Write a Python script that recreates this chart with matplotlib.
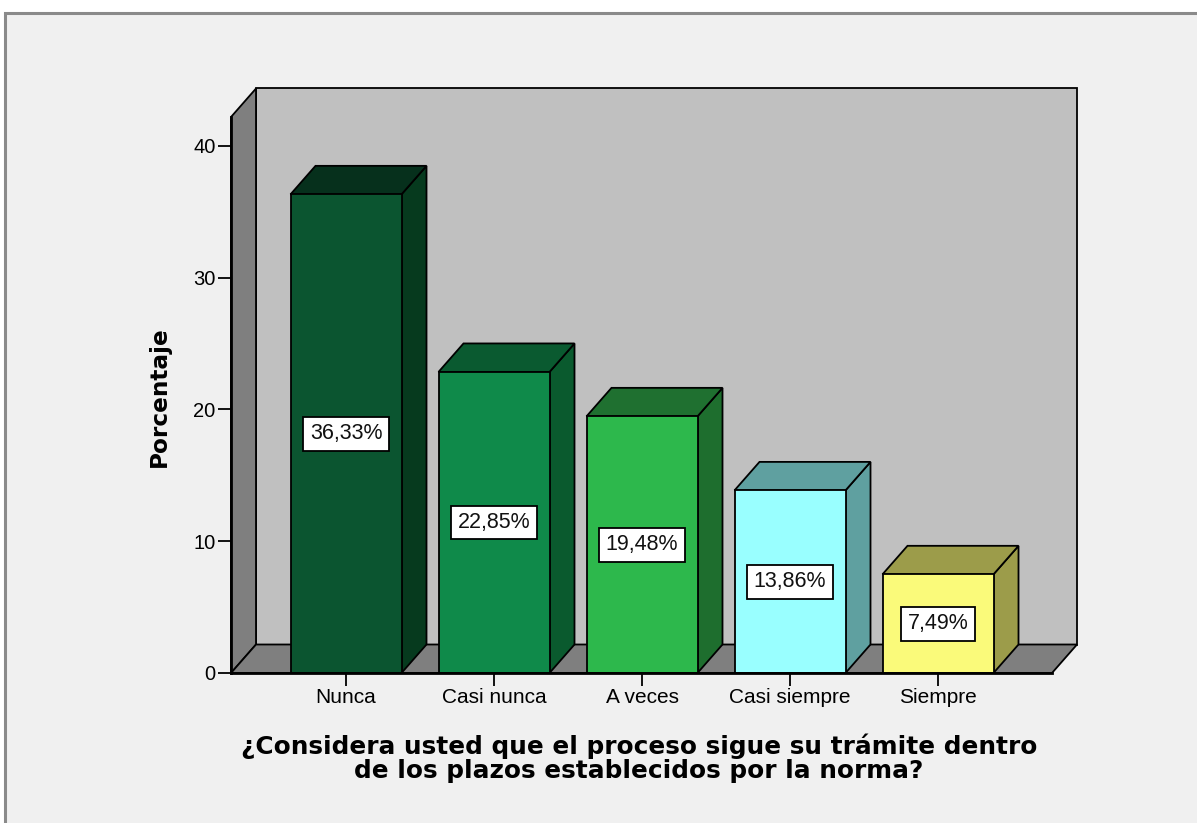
import matplotlib
matplotlib.use("Agg")
import matplotlib.pyplot as plt
from matplotlib.patches import Polygon, Rectangle

categories = ["Nunca", "Casi nunca", "A veces", "Casi siempre", "Siempre"]
values = [36.33, 22.85, 19.48, 13.86, 7.49]
yticks = [0, 10, 20, 30, 40]
ylabel = "Porcentaje"
xtitle = "¿Considera usted que el proceso sigue su trámite dentro\nde los plazos establecidos por la norma?"

front_colors = ["#0B5530", "#0F8A4A", "#2DB84C", "#99FFFF", "#FAFA7A"]
side_colors = ["#063A1E", "#0A5A2E", "#1E6E2E", "#5FA0A0", "#9C9C4A"]
top_colors = ["#06301C", "#0A5A30", "#1F7030", "#5FA0A0", "#9C9C4A"]

W, H = 1197, 823
fig = plt.figure(figsize=(W / 100, H / 100), dpi=100, facecolor="white")

# outer frame
fig.patches.append(Rectangle((5 / W, -0.1), 1.2, 1.1 - 13 / H, transform=fig.transFigure,
                             facecolor="#F0F0F0", edgecolor="#8A8A8A", lw=2.2, zorder=-5))

# axes: front plane
px_left, px_right, px_bottom, px_top = 231, 1052, 673, 117
ax = fig.add_axes([px_left / W, (H - px_bottom) / H, (px_right - px_left) / W, (px_bottom - px_top) / H])
ax.set_facecolor("none")
ax.set_zorder(1)

spacing = 148.0
cx0 = 346.0
xmin = (px_left - cx0) / spacing
xmax = (px_right - cx0) / spacing
ppu = 13.175
ymax = (px_bottom - px_top) / ppu
ax.set_xlim(xmin, xmax)
ax.set_ylim(0, ymax)

dx = 25 / spacing
dy = 28.5 / ppu
bw = 111 / spacing
ec = "black"
lw = 1.3

# back wall
ax.add_patch(Polygon([(xmin + dx, dy), (xmax + dx, dy), (xmax + dx, ymax + dy), (xmin + dx, ymax + dy)],
                     closed=True, facecolor="#C0C0C0", edgecolor=ec, lw=lw, clip_on=False, zorder=0.5))
# left wall
ax.add_patch(Polygon([(xmin, 0), (xmin + dx, dy), (xmin + dx, ymax + dy), (xmin, ymax)],
                     closed=True, facecolor="#7F7F7F", edgecolor=ec, lw=lw, clip_on=False, zorder=0.6))
# floor
ax.add_patch(Polygon([(xmin, 0), (xmax, 0), (xmax + dx, dy), (xmin + dx, dy)],
                     closed=True, facecolor="#7F7F7F", edgecolor=ec, lw=lw, clip_on=False, zorder=0.7))

for i, (v, fc, sc, tc) in enumerate(zip(values, front_colors, side_colors, top_colors)):
    x0, x1 = i - bw / 2, i + bw / 2
    ax.add_patch(Polygon([(x1, 0), (x1 + dx, dy), (x1 + dx, v + dy), (x1, v)],
                         closed=True, facecolor=sc, edgecolor=ec, lw=lw, clip_on=False, zorder=2))
    ax.add_patch(Polygon([(x0, v), (x1, v), (x1 + dx, v + dy), (x0 + dx, v + dy)],
                         closed=True, facecolor=tc, edgecolor=ec, lw=lw, clip_on=False, zorder=2))
    ax.bar(i, v, width=bw, color=fc, edgecolor=ec, linewidth=lw, zorder=3, clip_on=False)
    ax.text(i, v / 2, f"{v:.2f}".replace(".", ",") + "%", ha="center", va="center",
            fontsize=15.5, family="Liberation Sans", color="#111111", zorder=4,
            bbox=dict(boxstyle="square,pad=0.3", facecolor="white", edgecolor="black", lw=1.3))

for s in ["top", "right"]:
    ax.spines[s].set_visible(False)
for s in ["left", "bottom"]:
    ax.spines[s].set_color("black")
    ax.spines[s].set_linewidth(2)
    ax.spines[s].set_zorder(5)

ax.set_yticks(yticks)
ax.set_yticklabels([str(t) for t in yticks], family="Liberation Sans", fontsize=14.5)
ax.set_xticks(range(len(categories)))
ax.set_xticklabels(categories, family="Liberation Sans", fontsize=15)
ax.tick_params(axis="y", direction="out", length=9.5, width=1.3, pad=1.5, colors="black")
ax.tick_params(axis="x", direction="out", length=9, width=1.3, pad=2, colors="black")

fig.text(159 / W, 1 - 397 / H, ylabel, rotation=90, ha="center", va="center",
         fontsize=16.7, fontweight="bold", family="DejaVu Sans")
fig.text(639 / W, 1 - 758 / H, xtitle, ha="center", va="center", fontsize=17.8,
         fontweight="bold", family="DejaVu Sans", linespacing=1.0)

fig.savefig("out.png", dpi=100, facecolor="white")
